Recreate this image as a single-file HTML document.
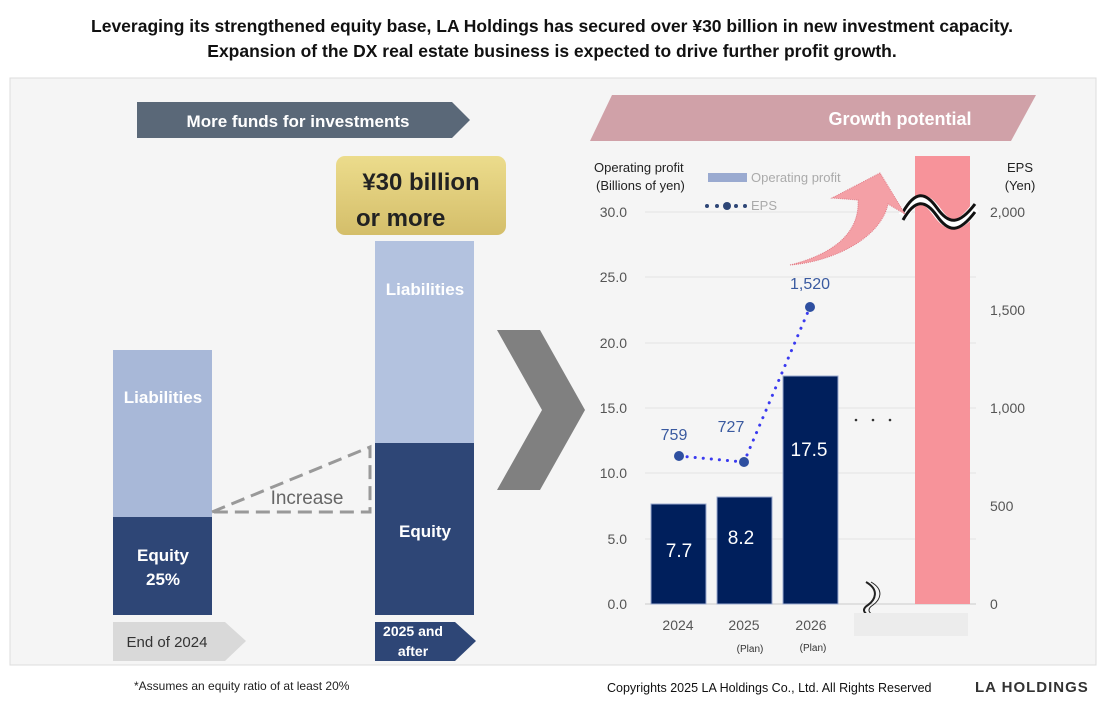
<!DOCTYPE html>
<html><head><meta charset="utf-8"><style>
body{margin:0;width:1104px;height:703px;background:#fff;font-family:"Liberation Sans",sans-serif;position:relative;overflow:hidden}
.t{position:absolute;white-space:nowrap}
</style></head><body>
<div class="t" style="left:0;width:1104px;top:14px;text-align:center;font-weight:bold;font-size:17.5px;line-height:25px;color:#111">Leveraging its strengthened equity base, LA Holdings has secured over ¥30 billion in new investment capacity.<br>Expansion of the DX real estate business is expected to drive further profit growth.</div>
<svg width="1104" height="703" style="position:absolute;left:0;top:0" font-family="Liberation Sans, sans-serif">
<rect x="10" y="78" width="1086" height="587" fill="#f5f5f5" stroke="#ddd"/>
<polygon points="137,102 452,102 470,120 452,138 137,138" fill="#5a6878"/>
<text x="298" y="127" font-size="17" font-weight="bold" fill="#fff" text-anchor="middle">More funds for investments</text>
<rect x="113" y="350" width="99" height="167" fill="#a8b8d8"/>
<rect x="113" y="517" width="99" height="98" fill="#2e4676"/>
<text x="163" y="403" font-size="17" font-weight="bold" fill="#fff" text-anchor="middle">Liabilities</text>
<text x="163" y="561" font-size="17" font-weight="bold" fill="#fff" text-anchor="middle">Equity</text>
<text x="163" y="585" font-size="17" font-weight="bold" fill="#fff" text-anchor="middle">25%</text>
<rect x="375" y="241" width="99" height="202" fill="#b3c2df"/>
<rect x="375" y="443" width="99" height="172" fill="#2e4676"/>
<text x="425" y="295" font-size="17" font-weight="bold" fill="#fff" text-anchor="middle">Liabilities</text>
<text x="425" y="537" font-size="17" font-weight="bold" fill="#fff" text-anchor="middle">Equity</text>
<polyline points="212,512 370,447 370,512 212,512" fill="none" stroke="#999" stroke-width="3" stroke-dasharray="14,7"/>
<text x="307" y="504" font-size="19" fill="#666" text-anchor="middle">Increase</text>
<defs><linearGradient id="g" x1="0" y1="0" x2="0" y2="1"><stop offset="0" stop-color="#ecdc8c"/><stop offset="1" stop-color="#d4be6a"/></linearGradient></defs>
<rect x="336" y="156" width="170" height="79" rx="9" fill="url(#g)"/>
<text x="421" y="190" font-size="24" font-weight="bold" fill="#222" text-anchor="middle">¥30 billion</text>
<text x="356" y="226" font-size="24" font-weight="bold" fill="#222">or more</text>
<polygon points="113,622 225,622 246,641 225,661 113,661" fill="#d9d9d9"/>
<text x="167" y="647" font-size="15" fill="#333" text-anchor="middle">End of 2024</text>
<polygon points="375,622 455,622 476,641 455,661 375,661" fill="#2e4676"/>
<text x="413" y="636" font-size="14" font-weight="bold" fill="#fff" text-anchor="middle">2025 and</text>
<text x="413" y="656" font-size="14" font-weight="bold" fill="#fff" text-anchor="middle">after</text>
<polygon points="497,330 540,330 585,410 540,490 497,490 542,410" fill="#808080"/>
<polygon points="612,95 1036,95 1011,141 590,141" fill="#d0a1a8"/>
<text x="900" y="125" font-size="18" font-weight="bold" fill="#fff" text-anchor="middle">Growth potential</text>
<text x="594" y="172" font-size="13" fill="#222">Operating profit</text>
<text x="596" y="190" font-size="13" fill="#222">(Billions of yen)</text>
<text x="1020" y="172" font-size="13" fill="#222" text-anchor="middle">EPS</text>
<text x="1020" y="190" font-size="13" fill="#222" text-anchor="middle">(Yen)</text>
<rect x="708" y="173" width="39" height="9" fill="#9aaad0"/>
<text x="751" y="182" font-size="13" fill="#aaa">Operating profit</text>
<g fill="#2e4676"><circle cx="707" cy="206" r="2"/><circle cx="717" cy="206" r="2"/><circle cx="727" cy="206" r="4"/><circle cx="736" cy="206" r="2"/><circle cx="745" cy="206" r="2"/></g>
<text x="751" y="210" font-size="13" fill="#aaa">EPS</text>
<g stroke="#e2e2e2"><line x1="645" y1="212" x2="976" y2="212"/><line x1="645" y1="277" x2="976" y2="277"/><line x1="645" y1="343" x2="976" y2="343"/><line x1="645" y1="408" x2="976" y2="408"/><line x1="645" y1="473" x2="976" y2="473"/><line x1="645" y1="539" x2="976" y2="539"/><line x1="645" y1="604" x2="976" y2="604" stroke="#ccc"/></g>
<g font-size="14" fill="#555" text-anchor="end"><text x="627" y="217">30.0</text><text x="627" y="282">25.0</text><text x="627" y="348">20.0</text><text x="627" y="413">15.0</text><text x="627" y="478">10.0</text><text x="627" y="544">5.0</text><text x="627" y="609">0.0</text></g>
<g font-size="14" fill="#555"><text x="990" y="217">2,000</text><text x="990" y="315">1,500</text><text x="990" y="413">1,000</text><text x="990" y="511">500</text><text x="990" y="609">0</text></g>
<g fill="#001f5c" stroke="#9aaad0" stroke-width="1"><rect x="651" y="504" width="55" height="100"/><rect x="717" y="497" width="55" height="107"/><rect x="783" y="376" width="55" height="228"/></g>
<g font-size="19" fill="#fff" text-anchor="middle"><text x="679" y="557">7.7</text><text x="741" y="544">8.2</text><text x="809" y="456">17.5</text></g>
<rect x="915" y="156" width="55" height="448" fill="#f7939a"/>
<path d="M903,216 C915,195 925,195 937,212 C949,229 959,229 975,208" fill="none" stroke="#fff" stroke-width="10"/>
<path d="M903,216 C915,195 925,195 937,212 C949,229 959,229 975,208" fill="none" stroke="#111" stroke-width="3" transform="translate(0,-4)"/>
<path d="M903,216 C915,195 925,195 937,212 C949,229 959,229 975,208" fill="none" stroke="#111" stroke-width="3" transform="translate(0,4)"/>
<path d="M790,265 C830,255 860,235 858,200 L832,198 L880,173 L905,214 L888,204 C880,240 830,262 790,265 Z" fill="#f4a0a6" stroke="#e07b86" stroke-dasharray="1,1"/>
<polyline points="679,456 744,462 810,307" fill="none" stroke="#3a3af0" stroke-width="3" stroke-dasharray="0.1,8" stroke-linecap="round"/>
<g fill="#2e4fa0"><circle cx="679" cy="456" r="5"/><circle cx="744" cy="462" r="5"/><circle cx="810" cy="307" r="5"/></g>
<g font-size="16" fill="#3a5aa0" text-anchor="middle"><text x="674" y="440">759</text><text x="731" y="432">727</text><text x="810" y="289">1,520</text></g>
<g fill="#333"><circle cx="856" cy="420" r="1.3"/><circle cx="873" cy="420" r="1.3"/><circle cx="890" cy="420" r="1.3"/></g>
<path d="M866,582 C880,590 875,600 868,605 C860,610 865,615 874,617" fill="none" stroke="#222" stroke-width="2"/>
<path d="M871,582 C885,590 880,600 873,605 C865,610 870,615 879,617" fill="none" stroke="#222" stroke-width="1"/>
<rect x="854" y="613" width="114" height="23" fill="#ececec"/>
<g font-size="14" fill="#555" text-anchor="middle"><text x="678" y="630">2024</text><text x="744" y="630">2025</text><text x="811" y="630">2026</text></g>
<g font-size="10" fill="#333" text-anchor="middle"><text x="750" y="652">(Plan)</text><text x="813" y="651">(Plan)</text></g>
<text x="134" y="690" font-size="12" fill="#222">*Assumes an equity ratio of at least 20%</text>
<text x="607" y="692" font-size="12.5" fill="#111">Copyrights 2025 LA Holdings Co., Ltd.  All Rights Reserved</text>
<text x="975" y="692" font-size="15" font-weight="bold" fill="#333" letter-spacing="1">LA HOLDINGS</text>
</svg>
</body></html>
